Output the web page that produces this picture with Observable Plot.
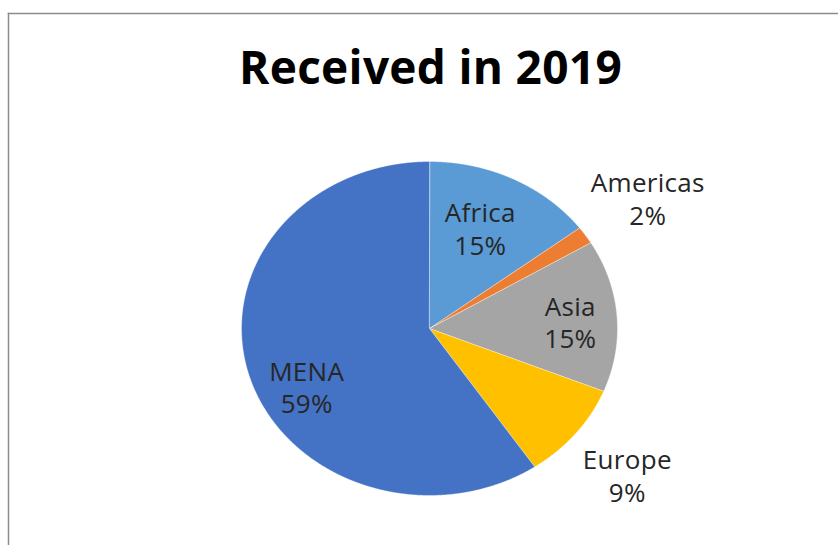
<!DOCTYPE html>
<html>
<head>
<meta charset="utf-8">
<script src="https://cdn.jsdelivr.net/npm/d3@7"></script>
<script src="https://cdn.jsdelivr.net/npm/@observablehq/plot@0.6"></script>
<style>
  html, body { margin: 0; padding: 0; background: #fff; }
  #chart svg { display: block; }
  #chart svg g[aria-label="text"] text { letter-spacing: 0.3px; }
</style>
</head>
<body>
<div id="chart"></div>
<script>
// ---- data ----
const title = "Received in 2019";
const regions = ["Africa", "Americas", "Asia", "Europe", "MENA"];
const shares = [14.7, 1.7, 14.7, 9.4, 59.4];
const sliceColors = ["#5B9BD5", "#ED7D31", "#A5A5A5", "#FFC000", "#4472C4"];

// ---- label layout (radius as fraction of pie radius, angle nudge in degrees) ----
const labelRadius = [0.66, 1.40, 0.75, 1.37, 0.74];
const labelNudge = [-2.3, 0, 1.3, 0.8, -11];

const rows = regions.map((name, i) => ({name, value: shares[i], i}));
const arcs = d3.pie().sort(null).value(d => d.value).startAngle(0).endAngle(2 * Math.PI)(rows);

const pts = [];
for (const a of arcs) {
  const name = a.data.name;
  pts.push({name, x: 0, y: 0});
  const n = Math.max(2, Math.ceil((a.endAngle - a.startAngle) / 0.005));
  for (let k = 0; k <= n; k++) {
    const t = a.startAngle + (a.endAngle - a.startAngle) * k / n;
    pts.push({name, x: Math.sin(t), y: Math.cos(t)});
  }
}

const total = d3.sum(shares);
const labels = arcs.map(a => {
  const i = a.data.i;
  const mid = (a.startAngle + a.endAngle) / 2 + labelNudge[i] * Math.PI / 180;
  const r = labelRadius[i];
  return {
    text: `${a.data.name}\n${Math.round(a.data.value / total * 100)}%`,
    x: r * Math.sin(mid),
    y: r * Math.cos(mid)
  };
});

const chart = Plot.plot({
  width: 838,
  height: 545,
  marginLeft: 8,
  marginTop: 13,
  marginRight: 0,
  marginBottom: 0,
  x: {domain: [-1, 1], range: [241, 617], axis: null},
  y: {domain: [-1, 1], range: [495, 161], axis: null},
  color: {domain: regions, range: sliceColors},
  style: {background: "#fff"},
  marks: [
    Plot.frame({anchor: "left", stroke: "#8c8c8c", strokeWidth: 1.5}),
    Plot.frame({anchor: "top", stroke: "#8c8c8c", strokeWidth: 1.5}),
    Plot.line(pts, {x: "x", y: "y", z: "name", fill: "name", stroke: "#ffffff", strokeWidth: 0.8, strokeOpacity: 0.5, curve: "linear-closed"}),
    Plot.text(labels, {x: "x", y: "y", text: "text", fontSize: 26, lineHeight: 1.25, fill: "#262626", fontFamily: "'Open Sans', sans-serif", textAnchor: "middle", lineAnchor: "middle"}),
    Plot.text([title], {frameAnchor: "top", dx: 7, dy: 70, lineAnchor: "bottom", text: d => d, fontSize: 46, fontWeight: "bold", fill: "#000", fontFamily: "'Open Sans', sans-serif"})
  ]
});
document.getElementById("chart").appendChild(chart);
</script>
</body>
</html>
